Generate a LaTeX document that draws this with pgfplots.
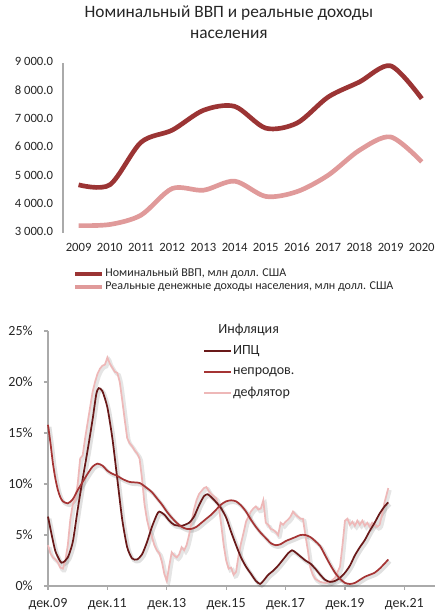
\documentclass[border=0pt]{standalone}
\usepackage{pgfplots}
\pgfplotsset{compat=1.18}
\usepackage{fontspec}
\setmainfont{Carlito}
\definecolor{gdp}{RGB}{155,52,52}
\definecolor{inc}{RGB}{224,154,154}
\definecolor{cpi}{RGB}{105,25,25}
\definecolor{nonfood}{RGB}{165,52,52}
\definecolor{defl}{RGB}{238,184,184}
\definecolor{axgray}{RGB}{170,170,170}
\definecolor{txt}{RGB}{38,38,38}

\pgfplotstableread{
x y
2009 4700
2010 4700
2011 6200
2012 6630
2013 7330
2014 7470
2015 6700
2016 6880
2017 7800
2018 8330
2019 8900
2020 7740
}\gdp
\pgfplotstableread{
x y
2009 3260
2010 3300
2011 3630
2012 4570
2013 4510
2014 4830
2015 4290
2016 4460
2017 5040
2018 5920
2019 6390
2020 5510
}\inc
\pgfplotstableread{
x y
0 6.8
1.5 5.0
3 3.4
5 2.4
6 2.3
8 2.8
10 4.3
12 7.5
14 10.5
16 13.3
18 16.3
19.5 18.8
20.5 19.4
22 19.1
24 17.5
26 14.5
28 10.5
30 6.5
32 3.8
34 2.7
36 2.6
38 3.1
40 4.3
42 5.8
44 7.0
45 7.3
47 7.0
49 6.4
51 6.0
54 5.9
57 6.2
59 6.8
61 7.9
63 8.8
64.5 9.0
66 8.7
68 8.2
70 7.6
72 6.7
74 5.3
76 4.0
78 2.8
80 1.9
82 1.2
84 0.5
85.7 0.2
87 0.5
89 1.1
91 1.5
93 2.0
95 2.6
97 3.2
98.6 3.5
100 3.3
102 2.9
104 2.5
106 2.2
108 1.7
110 1.1
112 0.6
114 0.4
116 0.5
118 0.8
120 1.3
122 2.0
124 3.0
126 3.8
128 4.5
130 5.4
132 6.2
134 7.1
136 7.8
137.5 8.2
}\cpi
\pgfplotstableread{
x y
0 15.8
1 14.0
2 12.0
3 10.5
4 9.4
5 8.7
6 8.3
8 8.1
10 8.5
12 9.4
14 10.2
16 11.0
18 11.7
20 12.0
22 11.8
24 11.3
26 11.0
28 10.8
30 10.5
33 10.2
37 10.1
40 9.6
42 9.2
44 8.6
46 8.0
48 7.3
50 6.7
52 6.2
54 5.8
56 5.6
58 5.6
60 5.8
62 6.2
64 6.6
66 7.0
68 7.5
70 8.0
72 8.3
74 8.4
76 8.3
78 7.9
80 7.3
82 6.5
84 5.8
86 5.2
88 4.7
90 4.2
92 4.0
94 4.1
96 4.4
98 4.6
100 4.8
102 5.0
104 5.0
106 4.8
108 4.4
110 3.9
112 3.0
114 2.1
116 1.3
118 0.7
120 0.3
122 0.2
124 0.3
126 0.6
128 0.9
130 1.1
132 1.3
134 1.7
136 2.2
137.5 2.6
}\nonfood
\pgfplotstableread{
x y
0 4.0
1 3.2
2 2.8
3 2.6
4 2.3
5 1.8
6 1.7
7 2.5
8 4.0
9 6.5
10 8.0
11 8.5
12 10.0
13 12.5
14 12.8
15 14.5
16 16.0
17 17.5
18 19.0
19 20.0
20 20.8
21 21.3
22 21.6
23 21.7
24 22.4
25 21.8
26 21.4
27 21.0
28 20.9
29 20.0
30 18.2
31 16.3
32 14.5
33 14.0
34 13.7
35 13.3
36 13.0
37 12.5
38 10.5
39 8.0
40 6.5
41 5.5
42 4.8
43 4.0
44 3.5
45 3.2
46 2.4
47 1.2
48 0.5
49 2.0
50 3.3
51 3.0
52 2.8
53 3.1
54 3.8
55 3.5
56 4.0
57 5.0
58 6.3
59 7.5
60 8.4
61 9.0
62 9.3
63 9.6
64 9.7
65 9.3
66 9.0
67 8.8
68 8.6
69 7.8
70 6.0
71 4.0
72 2.5
73 1.7
74 1.8
75 1.1
76 1.4
77 3.0
78 4.2
79 5.2
80 6.3
81 6.8
82 7.3
83 7.6
84 7.8
85 7.5
86 7.6
87 8.4
88 6.2
89 6.0
90 5.6
91 5.5
92 5.3
93 5.0
94 6.2
95 6.0
96 6.3
97 6.5
98 6.8
99 7.3
100 7.0
101 6.8
102 6.6
103 6.6
104 5.0
105 3.5
106 1.8
107 1.1
108 0.7
110 0.4
112 0.3
114 0.4
116 0.8
118 1.9
119 4.0
120 6.4
121 6.6
122 6.0
123 6.3
124 5.9
125 6.4
126 6.0
127 6.4
128 5.9
129 6.2
130 5.8
131 6.2
132 6.0
133 5.8
134 6.0
135 7.0
136 8.2
137.5 9.6
}\defl

\begin{document}
\begin{tikzpicture}
\useasboundingbox (0,0) rectangle (326.25pt,460.5pt);
% ---------- top chart ----------
\begin{axis}[
  at={(47.25pt,285.75pt)}, anchor=south west,
  scale only axis, width=280.8pt, height=127.5pt,
  xmin=2008.5, xmax=2020.5, ymin=3000, ymax=9000,
  axis x line*=bottom, axis y line*=left,
  x axis line style={draw=none},
  y axis line style={draw=axgray, line width=0.9pt, -},
  xtick={2009,2010,2011,2012,2013,2014,2015,2016,2017,2018,2019,2020},
  xticklabels={2009,2010,2011,2012,2013,2014,2015,2016,2017,2018,2019,2020},
  ytick={3000,4000,5000,6000,7000,8000,9000},
  yticklabels={3 000.0,4 000.0,5 000.0,6 000.0,7 000.0,8 000.0,9 000.0},
  major tick length=0pt, tick style={draw=none},
  typeset ticklabels with strut,
  ticklabel style={font=\fontsize{9.5}{11}\selectfont, text=txt},
  xticklabel style={yshift=-3pt},
  yticklabel style={xshift=-4pt},
  clip=false,
  title={Номинальный ВВП и реальные доходы\\населения},
  title style={font=\fontsize{13}{15.5}\selectfont, text=txt, align=center, at={(0.443,1)}, anchor=south, yshift=9pt},
  legend style={at={(0.027,-0.2)}, anchor=north west, draw=none, fill=none,
    font=\fontsize{9}{11}\selectfont, text=txt, row sep=0.5pt, inner sep=0pt,
    nodes={inner sep=1pt}},
  legend cell align=left,
  legend image code/.code={\draw[#1, line width=3pt] (0pt,0pt) -- (20pt,0pt);},
]
\addplot[gdp, line width=3.5pt, smooth, tension=0.5] table[x=x,y=y] {\gdp};
\addlegendentry{Номинальный ВВП, млн долл. США}
\addplot[inc, line width=3.5pt, smooth, tension=0.5] table[x=x,y=y] {\inc};
\addlegendentry{Реальные денежные доходы населения, млн долл. США}
\end{axis}
% ---------- bottom chart ----------
\begin{axis}[
  at={(36pt,21pt)}, anchor=south west,
  scale only axis, width=291.4pt, height=191.25pt,
  xmin=0, xmax=157, ymin=0, ymax=25,
  axis x line*=bottom, axis y line*=left,
  axis line style={draw=axgray, line width=0.8pt, -},
  tick align=outside, major tick length=3pt,
  tick style={draw=axgray, line width=0.8pt},
  xtick={0,24,48,72,96,120,144},
  xticklabels={дек.09,дек.11,дек.13,дек.15,дек.17,дек.19,дек.21},
  ytick={0,5,10,15,20,25},
  yticklabels={0\%,5\%,10\%,15\%,20\%,25\%},
  ticklabel style={font=\fontsize{10.5}{12}\selectfont, text=txt},
  xticklabel style={yshift=-3pt},
  yticklabel style={xshift=-5pt},
  clip=false,
  legend style={at={(0.399,1.035)}, anchor=north west, draw=none, fill=none,
    font=\fontsize{10.5}{12}\selectfont, text=txt, row sep=6pt, inner sep=0pt,
    nodes={inner sep=1pt}},
  legend cell align=left,
  legend image code/.code={\draw[#1] (0pt,0pt) -- (20pt,0pt);},
]
\addlegendimage{empty legend}
\addlegendentry{\hspace*{-11pt}Инфляция}
\addplot[forget plot, black, opacity=0.1, line width=2.6pt, smooth, tension=0.4, transform canvas={xshift=1.3pt,yshift=-1.5pt}] table[x=x,y=y] {\defl};
\addplot[forget plot, black, opacity=0.12, line width=2.6pt, smooth, tension=0.4, transform canvas={xshift=1.3pt,yshift=-1.5pt}] table[x=x,y=y] {\nonfood};
\addplot[forget plot, black, opacity=0.12, line width=2.6pt, smooth, tension=0.4, transform canvas={xshift=1.3pt,yshift=-1.5pt}] table[x=x,y=y] {\cpi};
\addplot[forget plot, defl, line width=1.3pt] table[x=x,y=y] {\defl};
\addplot[cpi, line width=1.3pt, smooth, tension=0.4] table[x=x,y=y] {\cpi};
\addlegendentry{ИПЦ}
\addplot[nonfood, line width=1.3pt, smooth, tension=0.4] table[x=x,y=y] {\nonfood};
\addlegendentry{непродов.}
\addlegendimage{defl, line width=1.3pt}
\addlegendentry{дефлятор}
\end{axis}
\end{tikzpicture}
\end{document}
